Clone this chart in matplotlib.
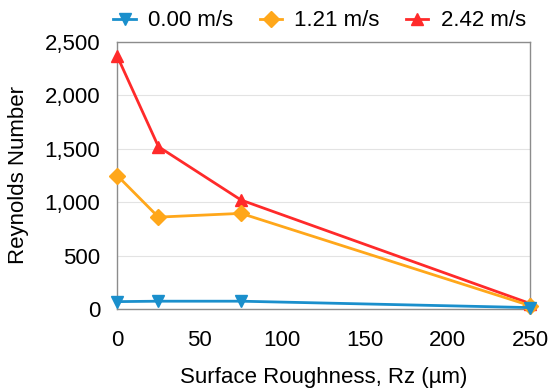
import matplotlib
matplotlib.use('Agg')
import matplotlib.pyplot as plt
from matplotlib.ticker import FuncFormatter

plt.rcParams["font.family"] = ["Liberation Sans", "DejaVu Sans"]

# 数据
roughness = [0, 25, 75, 250]
re_000 = [68, 72, 72, 12]
re_121 = [1250, 860, 895, 30]
re_242 = [2370, 1520, 1020, 50]

fig = plt.figure(figsize=(5.5, 3.9), dpi=100)
ax = fig.add_axes([0.213, 0.208, 0.751, 0.684])

ax.plot(roughness, re_000, c='#1a8fcc', lw=2, marker='v', ms=9, label='0.00 m/s', zorder=5)
ax.plot(roughness, re_121, c='#ffa71a', lw=2, marker='D', ms=8, label='1.21 m/s', zorder=4)
ax.plot(roughness, re_242, c='#ff2a2a', lw=2, marker='^', ms=9, label='2.42 m/s', zorder=3)

ax.set_xlim(0, 250)
ax.set_ylim(0, 2500)
ax.set_xticks([0, 50, 100, 150, 200, 250])
ax.set_yticks([0, 500, 1000, 1500, 2000, 2500])
ax.yaxis.set_major_formatter(FuncFormatter(lambda v, p: f'{int(v):,}'))
ax.tick_params(axis='x', length=0, labelsize=16, pad=15)
ax.tick_params(axis='y', length=0, labelsize=16, pad=12)
ax.grid(axis='y', color='#e3e3e3', lw=0.8)
ax.set_axisbelow(True)
for s in ax.spines.values():
    s.set_color('#8c8c8c')
    s.set_linewidth(1)
for line in ax.lines:
    line.set_clip_on(False)

ax.set_xlabel('Surface Roughness, Rz (µm)', fontsize=16, labelpad=12)
ax.set_ylabel('Reynolds Number', fontsize=16, labelpad=11)

ax.legend(loc='lower center', bbox_to_anchor=(0.49, 0.99), ncol=3, frameon=False,
          fontsize=16, handlelength=1.0, columnspacing=1.2, handletextpad=0.55,
          borderaxespad=0.2)

fig.savefig('out.png', dpi=100)
